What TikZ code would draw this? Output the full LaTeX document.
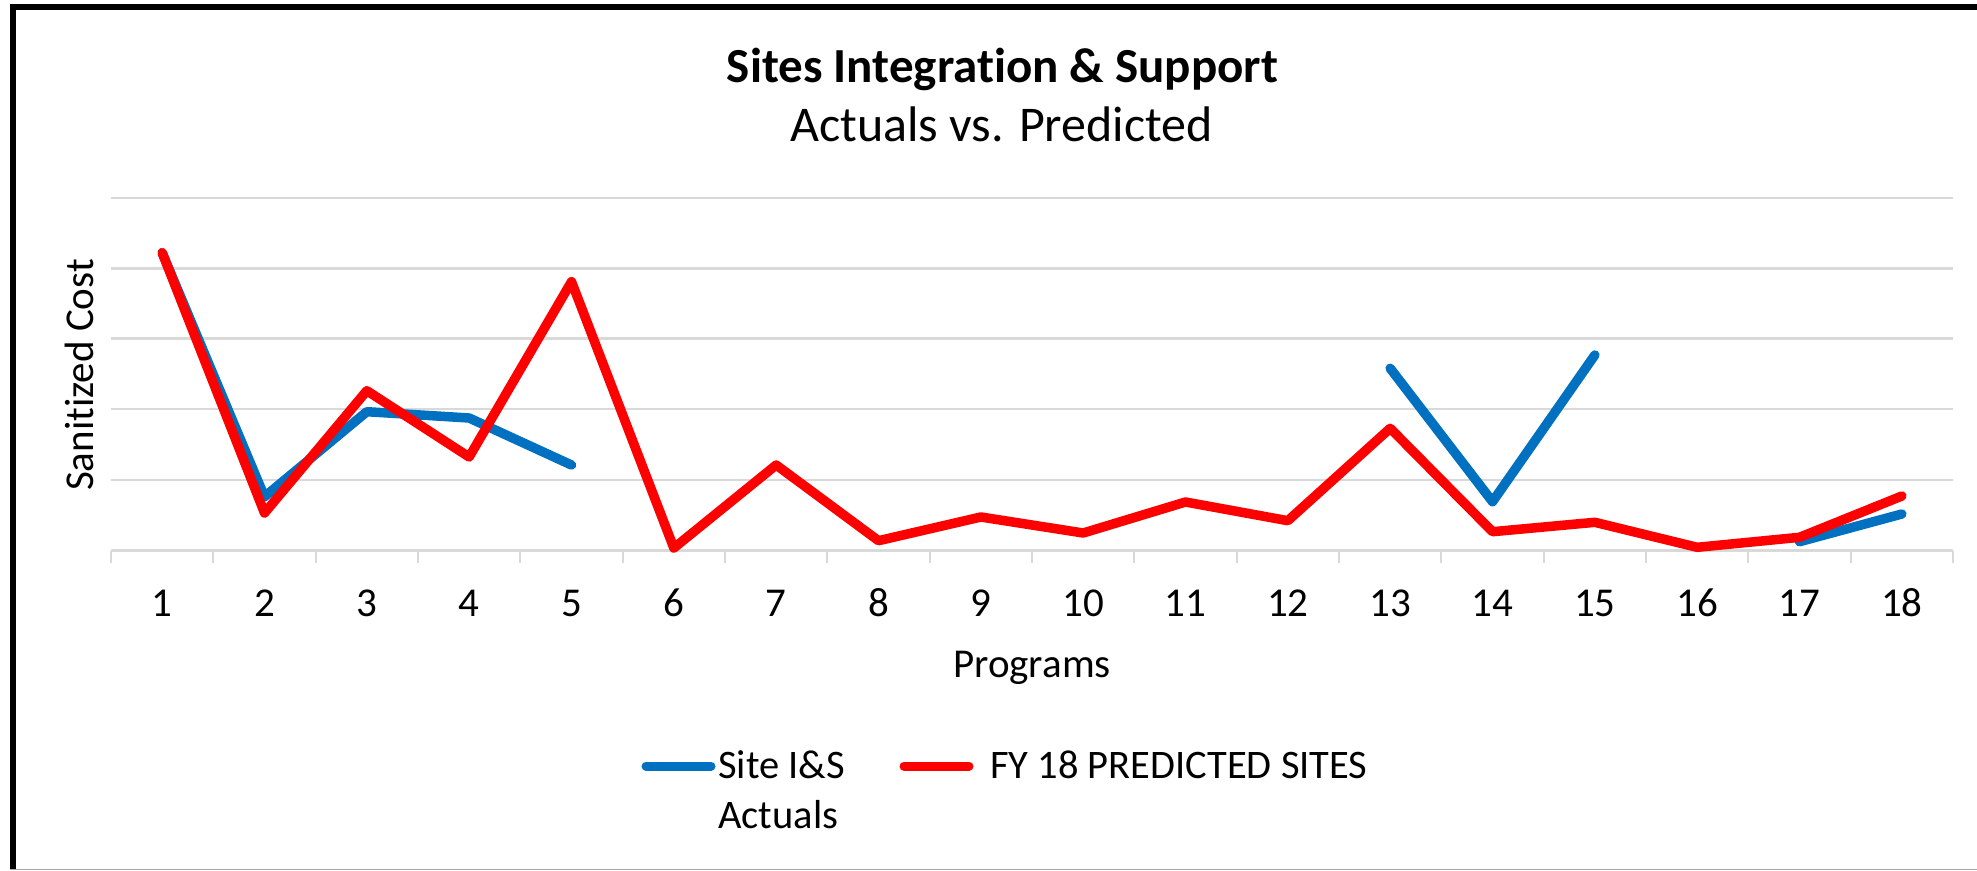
\documentclass[tikz,border=0pt]{standalone}
\usepackage{fontspec}
\setmainfont{Carlito}[Ligatures=NoCommon]
\definecolor{seriesblue}{HTML}{0070C0}
\definecolor{seriesred}{HTML}{FF0000}
\definecolor{gridgray}{HTML}{D9D9D9}
\begin{document}
\begin{tikzpicture}[x=1pt,y=-1pt,
  gridline/.style={draw=gridgray,line width=2.4pt},
  ticklabel/.style={anchor=base,inner sep=0pt,font=\fontsize{41}{49}\selectfont},
  axistitle/.style={inner sep=0pt,font=\fontsize{41}{49}\selectfont},
  legendtext/.style={anchor=base west,inner sep=0pt,font=\fontsize{40.5}{48}\selectfont},
  blueline/.style={draw=seriesblue,line width=9.5pt,line cap=round,line join=round},
  redline/.style={draw=seriesred,line width=9.5pt,line cap=round,line join=round}]
\useasboundingbox (0,0) rectangle (1977,870);
\fill[white] (0,0) rectangle (1977,870);
% frame
\fill[black] (10,4) rectangle (1977,10);
\fill[black] (10,4) rectangle (16,870);
\fill[gray!70] (10,868.5) rectangle (1977,870);
% title
\node[anchor=base,inner sep=0pt,font=\fontsize{49}{58}\selectfont\bfseries] (title) at (1002.5,82.3) {Sites Integration \& Support};
\node[anchor=base,inner sep=0pt,font=\fontsize{50}{60}\selectfont] (subtitle) at (1001.5,141) {Actuals vs. Predicted};
% grid
\foreach \gy in {197.7,268.3,338.5,409,480}
  \draw[gridline] (111,\gy) -- (1953,\gy);
\draw[gridline,line width=2.8pt] (111,550.5) -- (1953,550.5);
\foreach \k in {0,...,18}
  \draw[gridline,line width=2.2pt] ({111+\k*102.333},550.5) -- ({111+\k*102.333},563);
% tick labels
\foreach \i in {1,...,18}
  \node[ticklabel] (lab\i) at ({111+(\i-0.5)*102.333},616.7) {\i};
% axis titles
\node[axistitle,anchor=base] (xtitle) at (1032,677.3) {Programs};
\node[axistitle,anchor=base,rotate=90] (ytitle) at (93,375) {Sanitized Cost};
% data
\foreach \v [count=\i] in {252.7,513,390.7,457,281.7,548,465,540.7,517,533,502,520.7,428.3,531.7,522.3,547.3,537.3,496}
  \coordinate (r\i) at ({111+(\i-0.5)*102.333},\v);
\foreach \i/\v in {1/252.7,2/496.7,3/411.7,4/418,5/465,13/368.3,14/501.7,15/355,17/541.7,18/514}
  \coordinate (b\i) at ({111+(\i-0.5)*102.333},\v);
\draw[blueline] (b1) -- (b2) -- (b3) -- (b4) -- (b5);
\draw[blueline] (b13) -- (b14) -- (b15);
\draw[blueline] (b17) -- (b18);
\draw[redline] (r1) \foreach \i in {2,...,18}{ -- (r\i)};
% legend
\coordinate (lb1) at (646,766);
\coordinate (lb2) at (711,766);
\coordinate (lr1) at (904,766);
\coordinate (lr2) at (969,766);
\draw[blueline,line width=9pt] (lb1) -- (lb2);
\draw[redline,line width=9pt] (lr1) -- (lr2);
\node[legendtext] (leg1) at (718,778.3) {Site I\&S};
\node[legendtext] (leg1b) at (718,828.3) {Actuals};
\node[legendtext] (leg2) at (990,778.3) {FY 18 PREDICTED SITES};
\end{tikzpicture}
\end{document}
